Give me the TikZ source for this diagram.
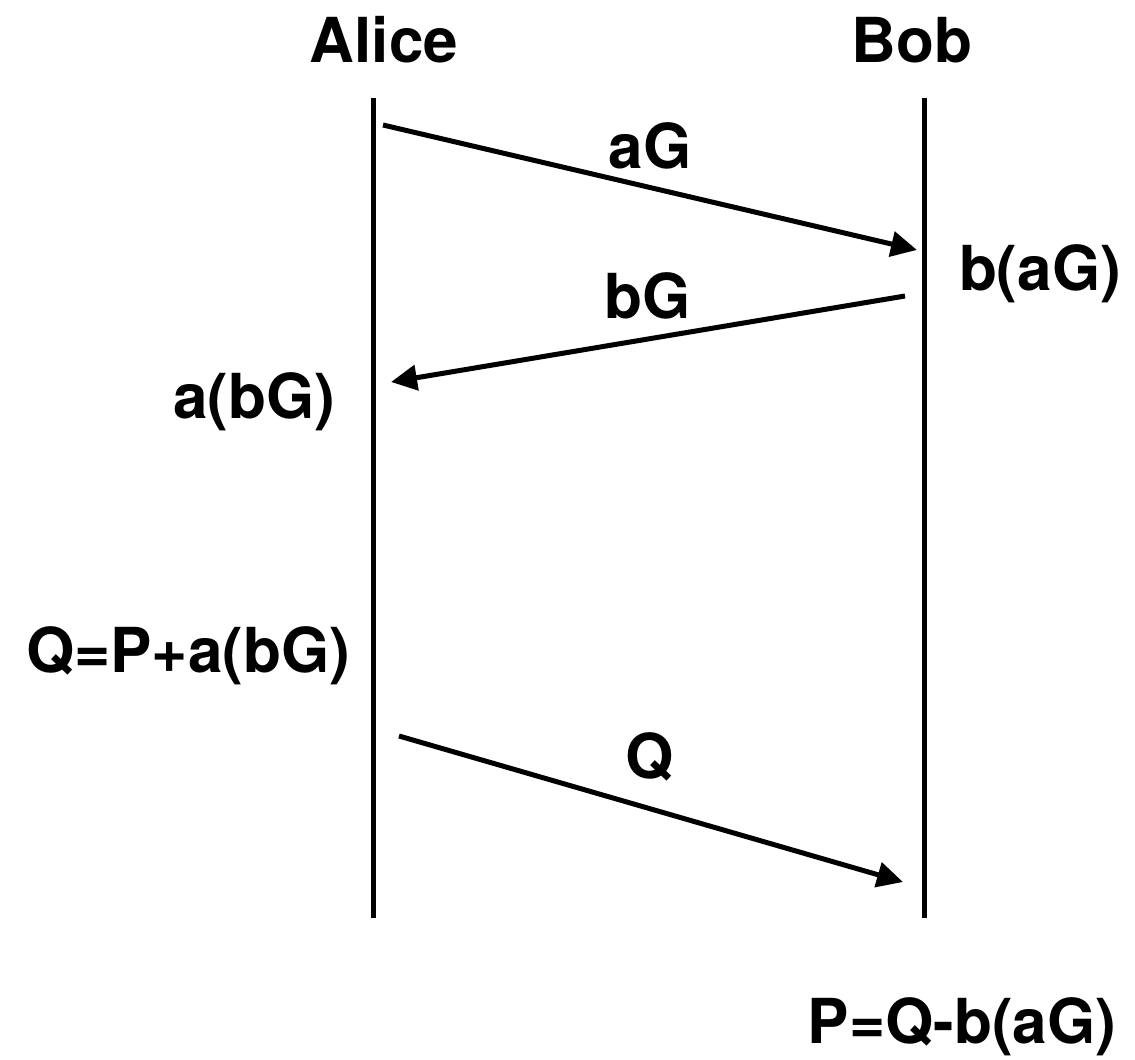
\documentclass[tikz,border=0pt]{standalone}
\usepackage{fontspec}
\setmainfont{TeX Gyre Heros}
\usetikzlibrary{arrows.meta}
\begin{document}
\begin{tikzpicture}[x=1pt,y=-1pt,
  lbl/.style={font=\fontsize{62}{66}\selectfont\bfseries, anchor=base, inner sep=0pt},
  life/.style={line width=5pt},
  msg/.style={line width=5pt, -{Triangle[length=26pt,width=25pt]}}]
\useasboundingbox (0,0) rectangle (1135,1060);
% lifelines
\coordinate (at) at (373,98);
\coordinate (ab) at (373,918);
\coordinate (bt) at (924,98);
\coordinate (bb) at (924,918);
\draw[life] (at) -- (ab);
\draw[life] (bt) -- (bb);
% labels
\node[lbl] (alice) at (384,62) {Alice};
\node[lbl] (bob) at (912,62) {Bob};
\node[lbl] (ag) at (650,168) {aG};
\node[lbl] (baG) at (1040,290) {b(aG)};
\node[lbl] (bg) at (648,318) {bG};
\node[lbl] (abG) at (254,418) {a(bG)};
\node[lbl] (qeq) at (188,672) {Q=P+a(bG)};
\node[lbl] (q) at (650,778) {Q};
\node[lbl] (peq) at (962,1043) {P=Q-b(aG)};
% messages
\coordinate (m1s) at (383,125);
\coordinate (m1e) at (917,250);
\coordinate (m2s) at (905,296);
\coordinate (m2e) at (391,382);
\coordinate (m3s) at (399,736);
\coordinate (m3e) at (903,882);
\draw[msg] (m1s) -- (m1e);
\draw[msg] (m2s) -- (m2e);
\draw[msg] (m3s) -- (m3e);
\end{tikzpicture}
\end{document}
